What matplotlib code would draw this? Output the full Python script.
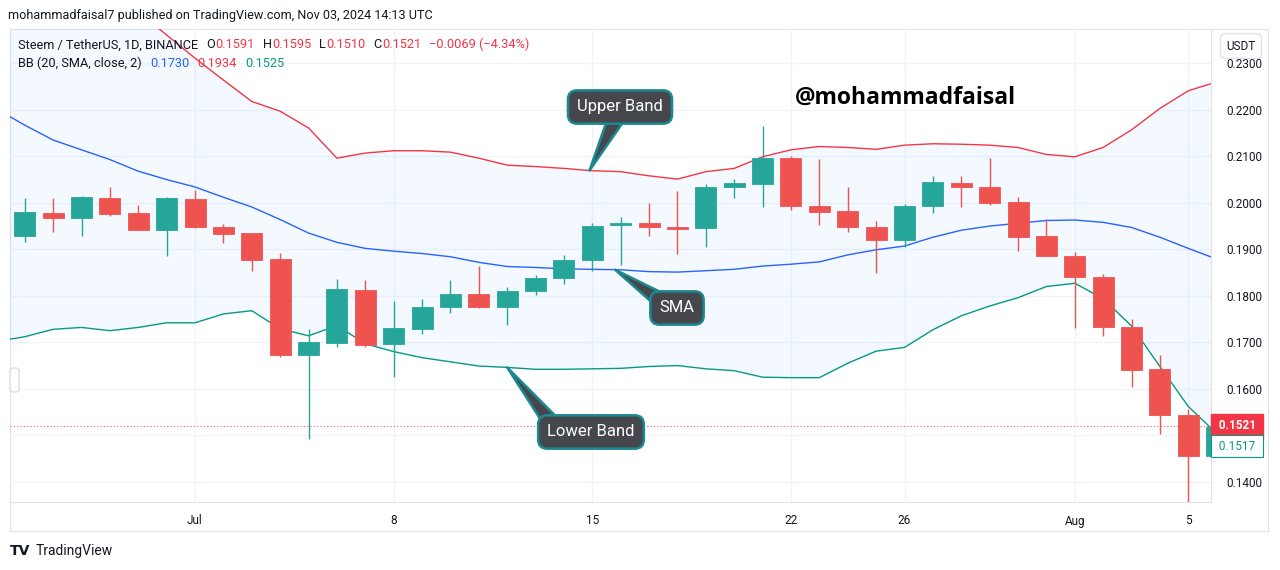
import matplotlib
matplotlib.use("Agg")
import matplotlib.pyplot as plt
import matplotlib.dates as mdates
import numpy as np
import pandas as pd
from matplotlib.patches import FancyBboxPatch
from matplotlib.transforms import IdentityTransform

plt.rcParams['font.family'] = ['Roboto', 'DejaVu Sans']

# ---- data ----
dates = pd.date_range('2024-06-25', '2024-08-06')
opens = [0.1929, 0.1979, 0.1968, 0.2010, 0.1978, 0.1942, 0.2008, 0.1948, 0.1935, 0.1879,
         0.1673, 0.1698, 0.1813, 0.1696, 0.1729, 0.1777, 0.1804, 0.1777, 0.1811, 0.1838,
         0.1876, 0.1952, 0.1957, 0.1947, 0.1945, 0.2035, 0.2040, 0.2097, 0.1994, 0.1982,
         0.1949, 0.1919, 0.1994, 0.2043, 0.2034, 0.2002, 0.1929, 0.1886, 0.1841, 0.1732,
         0.1642, 0.1543, 0.1456]
highs = [0.2010, 0.2010, 0.2015, 0.2035, 0.1995, 0.2013, 0.2028, 0.1954, 0.1936, 0.1893,
         0.1729, 0.1836, 0.1833, 0.1788, 0.1793, 0.1834, 0.1864, 0.1818, 0.1844, 0.1888,
         0.1956, 0.1969, 0.1999, 0.2026, 0.2040, 0.2051, 0.2165, 0.2101, 0.2094, 0.2035,
         0.1961, 0.1998, 0.2058, 0.2058, 0.2097, 0.2013, 0.1965, 0.1895, 0.1846, 0.1751,
         0.1673, 0.1556, 0.1530]
lows = [0.1915, 0.1938, 0.1929, 0.1972, 0.1941, 0.1886, 0.1946, 0.1913, 0.1853, 0.1669,
        0.1492, 0.1691, 0.1689, 0.1626, 0.1717, 0.1764, 0.1773, 0.1737, 0.1802, 0.1825,
        0.1853, 0.1866, 0.1929, 0.1890, 0.1906, 0.2010, 0.1992, 0.1985, 0.1952, 0.1937,
        0.1850, 0.1906, 0.1979, 0.1991, 0.1995, 0.1897, 0.1886, 0.1730, 0.1714, 0.1604,
        0.1503, 0.1357, 0.1450]
closes = [0.1981, 0.1968, 0.2012, 0.1977, 0.1942, 0.2010, 0.1947, 0.1933, 0.1877, 0.1673,
          0.1700, 0.1815, 0.1694, 0.1730, 0.1777, 0.1804, 0.1775, 0.1810, 0.1838, 0.1876,
          0.1950, 0.1956, 0.1948, 0.1944, 0.2033, 0.2042, 0.2097, 0.1994, 0.1981, 0.1949,
          0.1920, 0.1994, 0.2045, 0.2033, 0.2000, 0.1927, 0.1886, 0.1840, 0.1732, 0.1641,
          0.1543, 0.1456, 0.1517]

band_dates = pd.date_range('2024-06-24', '2024-08-06')
bb_upper = [0.2630, 0.2587, 0.2544, 0.2501, 0.2458, 0.2410, 0.2361, 0.2311, 0.2264, 0.2218,
            0.2197, 0.2161, 0.2096, 0.2107, 0.2112, 0.2112, 0.2109, 0.2096, 0.2081, 0.2078,
            0.2074, 0.2069, 0.2067, 0.2058, 0.2051, 0.2067, 0.2074, 0.2099, 0.2114, 0.2121,
            0.2119, 0.2115, 0.2124, 0.2127, 0.2126, 0.2124, 0.2119, 0.2104, 0.2099, 0.2119,
            0.2157, 0.2203, 0.2241, 0.2260]
bb_basis = [0.2202, 0.2167, 0.2135, 0.2114, 0.2093, 0.2068, 0.2050, 0.2034, 0.2012, 0.1991,
            0.1964, 0.1935, 0.1915, 0.1902, 0.1896, 0.1891, 0.1884, 0.1872, 0.1863, 0.1861,
            0.1858, 0.1857, 0.1856, 0.1852, 0.1851, 0.1854, 0.1857, 0.1864, 0.1868, 0.1873,
            0.1888, 0.1899, 0.1907, 0.1926, 0.1941, 0.1950, 0.1956, 0.1962, 0.1963, 0.1958,
            0.1947, 0.1926, 0.1902, 0.1879]
bb_lower = [0.1702, 0.1712, 0.1728, 0.1732, 0.1725, 0.1732, 0.1742, 0.1742, 0.1761, 0.1768,
            0.1729, 0.1714, 0.1736, 0.1697, 0.1680, 0.1667, 0.1658, 0.1649, 0.1646, 0.1642,
            0.1642, 0.1643, 0.1644, 0.1648, 0.1650, 0.1643, 0.1639, 0.1625, 0.1624, 0.1624,
            0.1655, 0.1681, 0.1689, 0.1727, 0.1757, 0.1778, 0.1796, 0.1820, 0.1827, 0.1794,
            0.1735, 0.1648, 0.1562, 0.1504]

tick_dates = ['2024-07-01', '2024-07-08', '2024-07-15', '2024-07-22', '2024-07-26',
              '2024-08-01', '2024-08-05']
tick_labels = ['Jul', '8', '15', '22', '26', 'Aug', '5']
price_ticks = [0.14, 0.15, 0.16, 0.17, 0.18, 0.19, 0.20, 0.21, 0.22, 0.23]
last_price = 0.1521
last_close = closes[-1]

# ---- colours ----
UP, DOWN = '#26a69a', '#ef5350'
RED, BLUE, TEAL, DARK = '#f23645', '#2962ff', '#089981', '#131722'
GRID, BORDER = '#f0f3fa', '#e0e3eb'
CALLOUT_BG, CALLOUT_EDGE = '#45474d', '#1b8a8f'

W, H = 1280, 570
def fx(px):
    return px / W
def fy(py):
    return 1 - py / H

fig = plt.figure(figsize=(W / 100, H / 100), dpi=100)

# outer frame around chart + price axis + time axis
frame = fig.add_axes([fx(10), fy(531), fx(1268) - fx(10), fy(29) - fy(531)])
frame.set_xticks([])
frame.set_yticks([])
for s in frame.spines.values():
    s.set_color(BORDER)
frame.set_zorder(-1)

ax = fig.add_axes([fx(10), fy(502), fx(1211) - fx(10), fy(29) - fy(502)])
ax.patch.set_visible(False)

x = mdates.date2num(dates.to_pydatetime())
xb = mdates.date2num(band_dates.to_pydatetime())
o, h, l, c = map(np.array, (opens, highs, lows, closes))
up = c >= o
cols = np.where(up, UP, DOWN)

# bollinger bands
ax.fill_between(xb, bb_lower, bb_upper, color='#2196f3', alpha=0.05, lw=0, zorder=1)
ax.plot(xb, bb_upper, color=RED, lw=1, zorder=2)
ax.plot(xb, bb_basis, color=BLUE, lw=1, zorder=2)
ax.plot(xb, bb_lower, color=TEAL, lw=1, zorder=2)

# candles
ax.vlines(x, l, h, colors=cols, lw=1, zorder=3)
body_lo = np.minimum(o, c)
body_h = np.maximum(np.abs(c - o), 0.00025)
ax.bar(x, body_h, bottom=body_lo, width=0.74, color=cols, edgecolor=cols, lw=0.6, zorder=4)

ax.axhline(last_price, color=RED, lw=0.8, ls=(0, (1, 2)), alpha=0.8, zorder=2)

jul1 = mdates.date2num(pd.Timestamp('2024-07-01').to_pydatetime())
ax.set_xlim(jul1 - 6.52, jul1 + 35.80)
ax.set_ylim(0.13566, 0.23738)

ax.set_xticks(mdates.date2num(pd.to_datetime(tick_dates).to_pydatetime()))
ax.set_xticklabels(tick_labels)
ax.yaxis.tick_right()
ax.set_yticks(price_ticks)
# 0.1500 is hidden behind the last-price labels in the original
ax.set_yticklabels(['' if abs(v - 0.15) < 1e-9 else f'{v:.4f}' for v in price_ticks])
ax.tick_params(axis='both', length=0, labelsize=8.5, labelcolor=DARK)
ax.tick_params(axis='y', pad=11)
ax.tick_params(axis='x', pad=9)
ax.grid(True, color=GRID, lw=1, zorder=0)
ax.set_axisbelow(True)
for side in ('left', 'top'):
    ax.spines[side].set_visible(False)
for side in ('right', 'bottom'):
    ax.spines[side].set_color(BORDER)

# price labels on the axis
ax.annotate(' %.4f ' % last_price, xy=(1.0, last_price), xycoords=ax.get_yaxis_transform(),
            xytext=(3.5, 0), textcoords='offset points', ha='left', va='center',
            fontsize=8.5, color='white', fontweight='bold', annotation_clip=False, zorder=10,
            bbox=dict(boxstyle='square,pad=0.4', fc=RED, ec=RED))
ax.annotate(' %.4f ' % last_close, xy=(1.0, last_close), xycoords=ax.get_yaxis_transform(),
            xytext=(3.5, -13.5), textcoords='offset points', ha='left', va='center',
            fontsize=8.5, color=TEAL, annotation_clip=False, zorder=10,
            bbox=dict(boxstyle='square,pad=0.4', fc='white', ec=TEAL, lw=0.8))

# callouts
def callout(text, tip, box_px, relpos, tw):
    ax.annotate(text, xy=tip, xycoords='data',
                xytext=(fx(box_px[0]), fy(box_px[1])), textcoords='figure fraction',
                ha='center', va='center', color='white', fontsize=12, zorder=12,
                bbox=dict(boxstyle='round,pad=0.55,rounding_size=0.55', fc=CALLOUT_BG,
                          ec=CALLOUT_EDGE, lw=1.8),
                arrowprops=dict(arrowstyle='wedge,tail_width=%s,shrink_factor=0.5' % tw,
                                fc=CALLOUT_BG, ec=CALLOUT_EDGE, lw=1.8, patchA=None,
                                shrinkA=0, shrinkB=0, relpos=relpos))

callout('Upper Band', (jul1 + 13.9, np.interp(jul1 + 13.9, xb, bb_upper)), (620, 107), (0.5, 0.25), 1.1)
sma_x = jul1 + 14.8
callout('SMA', (sma_x, np.interp(sma_x, xb, bb_basis)), (677, 308), (0.2, 0.75), 1.0)
callout('Lower Band', (xb[18], bb_lower[18]), (591, 432), (0.1, 0.75), 1.0)

fig.text(fx(905), fy(98), '@mohammadfaisal', fontsize=16.5, fontweight='bold',
         color='black', ha='center', va='center', family=['Open Sans', 'DejaVu Sans'])

# headers
def chain(parts, x0, y0, size):
    s, col, _ = parts[0]
    prev = fig.text(fx(x0), fy(y0), s, color=col, fontsize=size, ha='left', va='center')
    for s, col, gap in parts[1:]:
        prev = ax.annotate(s, xy=(1, 0), xycoords=prev, xytext=(gap, 0),
                           textcoords='offset points', ha='left', va='bottom',
                           color=col, fontsize=size, annotation_clip=False)

chain([('Steem / TetherUS, 1D, BINANCE', DARK, 0),
       ('O', DARK, 6), ('0.1591', RED, 0),
       ('H', DARK, 6), ('0.1595', RED, 0),
       ('L', DARK, 6), ('0.1510', RED, 0),
       ('C', DARK, 6), ('0.1521', RED, 0),
       ('\u22120.0069 (\u22124.34%)', RED, 6)], 18, 45, 9.2)
chain([('BB (20, SMA, close, 2)', DARK, 0),
       ('0.1730', BLUE, 6), ('0.1934', RED, 6), ('0.1525', TEAL, 6)], 18, 63, 9.2)

fig.text(fx(8), fy(16), 'mohammadfaisal7 published on TradingView.com, Nov 03, 2024 14:13 UTC',
         fontsize=9.1, color=DARK, ha='left', va='center')

# USDT button over the top price label
fig.text(fx(1241), fy(46), 'USDT', fontsize=8.5, color=DARK, ha='center', va='center', zorder=20,
         bbox=dict(boxstyle='round,pad=0.5,rounding_size=0.4', fc='white', ec=BORDER, lw=1))

# small collapse tab on left edge
fig.add_artist(FancyBboxPatch((10, H - 392), 9, 24, boxstyle='round,pad=0,rounding_size=3',
                              fc='white', ec='#d1d4dc', lw=0.8, transform=IdentityTransform()))

# footer logo
fig.text(fx(10), fy(551), 'TV', fontsize=10, fontweight='heavy', color=DARK,
         ha='left', va='center', family='DejaVu Sans')
fig.text(fx(36), fy(551), 'TradingView', fontsize=10, color=DARK, ha='left', va='center')

fig.savefig('out.png', dpi=100)
